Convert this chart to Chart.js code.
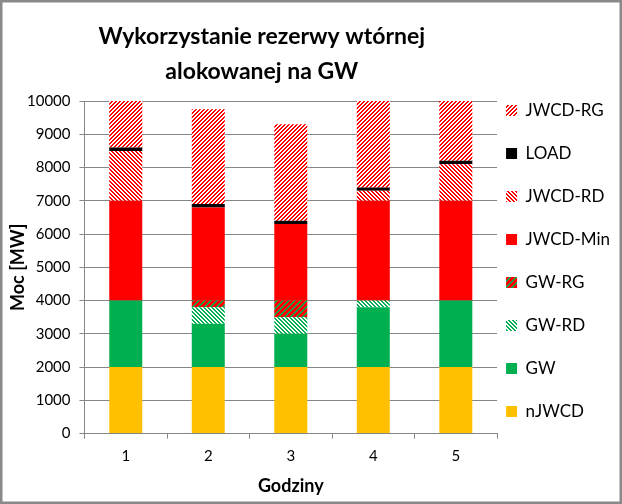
<!DOCTYPE html>
<html>
<head>
<meta charset="utf-8">
<script src="https://cdn.jsdelivr.net/npm/chart.js@4"></script>
<style>
  body { margin: 0; background: #fff; }
</style>
</head>
<body>
<canvas id="rezerwa-chart" width="622" height="504"></canvas>
<script>
// chart data
const hours = ['1', '2', '3', '4', '5'];
const nJWCD = [2000, 2000, 2000, 2000, 2000];
const gw = [2000, 1300, 1000, 1800, 2000];
const gwRD = [0, 500, 500, 200, 0];
const gwRG = [0, 200, 500, 0, 0];
const jwcdMin = [3000, 2800, 2300, 3000, 3000];
const jwcdRD = [1500, 0, 0, 300, 1100];
const load = [100, 100, 100, 100, 100];
const jwcdRG = [1400, 2850, 2900, 2600, 1800];
const yMin = 0, yMax = 10000, yStep = 1000;

const gridGray = '#868686';

// small canvas with diagonal stripes, used as a fill pattern
function hatch(fg, bg, dir, period, width) {
	let c = document.createElement('canvas');
	c.width = period;
	c.height = period;
	let g = c.getContext('2d');
	g.fillStyle = bg;
	g.fillRect(0, 0, period, period);
	g.fillStyle = fg;
	for (let i = 0; i < period; i++) {
		for (let j = 0; j < period; j++) {
			let k = dir == '/' ? (i + j) % period : ((i - j) % period + period) % period;
			if (k < width) g.fillRect(i, j, 1, 1);
		}
	}
	return g.createPattern(c, 'repeat');
}

let chartCanvas = document.querySelector('#rezerwa-chart');
let contex = chartCanvas.getContext('2d');

Chart.defaults.font.family = 'Lato';
Chart.defaults.color = '#000';

// white page + grey frame round the whole chart
const frame = {
	id: 'frame',
	beforeDraw(chart) {
		let c = chart.ctx;
		c.save();
		c.fillStyle = '#fff';
		c.fillRect(0, 0, chart.width, chart.height);
		c.restore();
	},
	afterDraw(chart) {
		let c = chart.ctx;
		c.save();
		c.strokeStyle = '#898989';
		c.lineWidth = 2.5;
		c.strokeRect(1.25, 1.25, chart.width - 2.5, chart.height - 2.5);
		c.restore();
	}
};

// title in the original sits a bit left of the plot centre
const titleShift = {
	id: 'titleShift',
	afterLayout(chart) {
		chart.titleBlock.left -= 29;
		chart.titleBlock.right -= 29;
	}
};

function ds(label, data, color) {
	return {
		label: label,
		data: data,
		backgroundColor: color,
		borderWidth: 0,
		barPercentage: 0.4,
		categoryPercentage: 1
	};
}

let rezerwaChart = new Chart(contex, {
	type: 'bar',
	data: {
		labels: hours,
		datasets: [
			ds('nJWCD', nJWCD, '#ffc000'),
			ds('GW', gw, '#00b050'),
			ds('GW-RD', gwRD, hatch('#00b050', '#ffffff', '\\', 4, 2)),
			ds('GW-RG', gwRG, hatch('#00b050', '#ff0000', '/', 6, 2)),
			ds('JWCD-Min', jwcdMin, '#ff0000'),
			ds('JWCD-RD', jwcdRD, hatch('#ff0000', '#ffffff', '\\', 4, 2)),
			ds('LOAD', load, '#000000'),
			ds('JWCD-RG', jwcdRG, hatch('#ff0000', '#ffffff', '/', 4, 2))
		]
	},
	options: {
		responsive: false,
		animation: false,
		devicePixelRatio: 1,
		layout: { padding: { left: 0, right: 2, top: 0, bottom: 3 } },
		scales: {
			x: {
				stacked: true,
				grid: { drawOnChartArea: false, color: gridGray, tickLength: 5 },
				border: { color: gridGray },
				ticks: { padding: 9, font: { size: 15 } },
				title: {
					display: true,
					text: 'Godziny',
					font: { size: 18, weight: 'bold' },
					padding: { top: 0.5, bottom: 4.3 }
				}
			},
			y: {
				stacked: true,
				min: yMin,
				max: yMax,
				grid: { color: gridGray, tickLength: 5 },
				border: { color: gridGray },
				ticks: {
					stepSize: yStep,
					padding: 9,
					font: { size: 15 },
					callback: function(value) { return String(value); }
				},
				title: {
					display: true,
					text: 'Moc [MW]',
					font: { size: 18, weight: 'bold', lineHeight: 1 },
					padding: { top: 9.5, bottom: -9.5 }
				}
			}
		},
		plugins: {
			title: {
				display: true,
				fullSize: false,
				text: ['Wykorzystanie rezerwy wtórnej', 'alokowanej na GW'],
				font: { size: 23, weight: 'bold', lineHeight: '35px' },
				padding: { top: 19.5, bottom: 11.5 }
			},
			legend: {
				position: 'right',
				align: 'start',
				reverse: true,
				title: { display: true, text: '', font: { size: 10 }, padding: { top: 81, bottom: 0 } },
				labels: {
					boxWidth: 11,
					boxHeight: 11,
					padding: 9,
					font: { size: 17, lineHeight: '34px' },
					generateLabels(chart) {
						let items = Chart.defaults.plugins.legend.labels.generateLabels(chart);
						items.forEach(function(item) {
							item.text = [item.text];
							item.lineWidth = 0;
						});
						return items;
					}
				}
			},
			tooltip: { enabled: false }
		}
	},
	plugins: [frame, titleShift]
});
console.log('chart created');
</script>
</body>
</html>
